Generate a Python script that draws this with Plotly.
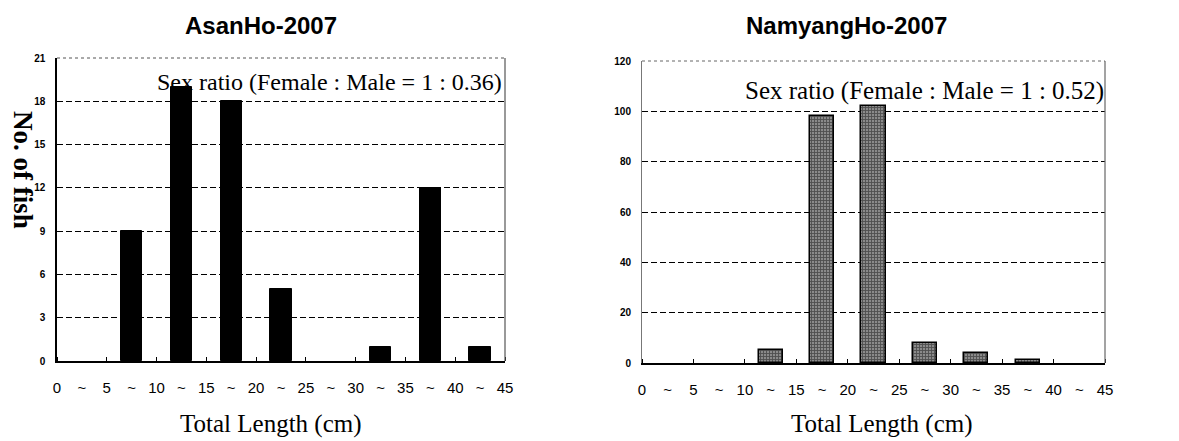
import plotly.graph_objects as go

# ---- data ----
bin_lower = [0, 5, 10, 15, 20, 25, 30, 35, 40]
bin_edges = [0, 5, 10, 15, 20, 25, 30, 35, 40, 45]
asan_counts = [0, 9, 19, 18, 5, 0, 1, 12, 1]
namyang_counts = [0, 0, 5, 98, 102, 8, 4, 1, 0]
asan_yticks = [0, 3, 6, 9, 12, 15, 18, 21]
namyang_yticks = [0, 20, 40, 60, 80, 100, 120]
asan_title = "AsanHo-2007"
namyang_title = "NamyangHo-2007"
asan_ratio = "Sex ratio (Female : Male = 1 : 0.36)"
namyang_ratio = "Sex ratio (Female : Male = 1 : 0.52)"
x_title = "Total Length (cm)"
y_title = "No. of fish"

# the page body has an 8px default margin: size the figure to fit the window
OFF = 8
W, H = 1179 - OFF, 441 - OFF
def px(x):
    return (x - OFF) / W
def py(y):
    return 1 - (y - OFF) / H

centers = [b + 2.5 for b in bin_lower]
mids = [b + 2.5 for b in bin_lower]
tickvals = bin_edges + mids
ticktext = [str(e) for e in bin_edges] + ["~"] * len(mids)

fig = go.Figure()
fig.add_trace(go.Bar(x=centers, y=asan_counts, width=5 * 0.43,
                     marker=dict(color="black",
                                 line=dict(color="black", width=[1 if v > 0 else 0 for v in asan_counts])),
                     xaxis="x", yaxis="y", showlegend=False))
fig.add_trace(go.Bar(x=centers, y=namyang_counts, width=5 * 0.47,
                     marker=dict(color="#7a7a7a",
                                 line=dict(color="black", width=[1.5 if v > 0 else 0 for v in namyang_counts]),
                                 pattern=dict(shape="+", size=3, solidity=0.5,
                                              fgcolor="#111111", bgcolor="#8a8a8a",
                                              fillmode="overlay")),
                     xaxis="x2", yaxis="y2", showlegend=False))

xfont = dict(family="Liberation Sans, Arial, sans-serif", size=15, color="black")
yfont = dict(family="Liberation Sans, Arial, sans-serif", size=10, color="black", weight="bold")

def xaxis(domain, anchor):
    return dict(domain=domain, anchor=anchor, range=[0, 45], tickmode="array",
                tickvals=tickvals, ticktext=ticktext, ticks="", tickfont=xfont,
                showgrid=False, zeroline=False, showline=True, linecolor="black",
                linewidth=2, ticklabelstandoff=12, automargin=False,
                minor=dict(tickmode="array", tickvals=bin_edges, ticks="inside",
                           ticklen=4, tickcolor="black", tickwidth=1))

def yaxis(domain, anchor, rng, ticks, lw, lc):
    return dict(domain=domain, anchor=anchor, range=rng, tickmode="array",
                tickvals=ticks, ticks="", tickfont=yfont, showgrid=True,
                gridcolor="black", gridwidth=1.2, griddash="6px,3px",
                zeroline=False, showline=True, linecolor=lc, linewidth=lw,
                ticklabelstandoff=8, automargin=False)

fig.update_layout(
    width=W, height=H, autosize=False,
    margin=dict(l=0, r=0, t=0, b=0, autoexpand=False),
    paper_bgcolor="white", plot_bgcolor="white",
    xaxis=xaxis([px(57), px(505)], "y"),
    yaxis=yaxis([py(361), py(58)], "x", [0, 21], asan_yticks, 1.5, "black"),
    xaxis2=xaxis([px(642), px(1105)], "y2"),
    yaxis2=yaxis([py(363), py(61)], "x2", [0, 120], namyang_yticks, 1, "#777"),
    bargap=0,
)

# right / top borders
for xr, yr, col in (("x domain", "y domain", "#555"), ("x2 domain", "y2 domain", "#666")):
    fig.add_shape(type="line", xref=xr, yref=yr, x0=0, x1=1, y0=1, y1=1,
                  line=dict(color=col, width=1, dash="dot"))
    fig.add_shape(type="line", xref=xr, yref=yr, x0=1, x1=1, y0=0, y1=1,
                  line=dict(color=col, width=1.2))

title_font = dict(family="Liberation Sans, Arial, sans-serif", size=24,
                  color="black", weight="bold")
serif = dict(family="Liberation Serif, Times New Roman, serif", size=24, color="black")

ann = [
    dict(text=asan_title, x=px(261), y=py(26), font=title_font),
    dict(text=namyang_title, x=px(846), y=py(26), font=title_font),
    dict(text=asan_ratio, x=px(504), y=py(82), xanchor="right", font=serif),
    dict(text=namyang_ratio, x=px(1106), y=py(91), xanchor="right", font=dict(serif, size=25)),
    dict(text=x_title, x=px(271), y=py(424), font=dict(serif, size=25)),
    dict(text=x_title, x=px(882), y=py(424), font=dict(serif, size=25)),
    dict(text=y_title, x=px(23), y=py(170), textangle=90, font=dict(serif, size=27, weight="bold")),
]
for a in ann:
    a.setdefault("xanchor", "center")
    fig.add_annotation(xref="paper", yref="paper", showarrow=False, yanchor="middle", **a)

fig.write_html("out.html")
